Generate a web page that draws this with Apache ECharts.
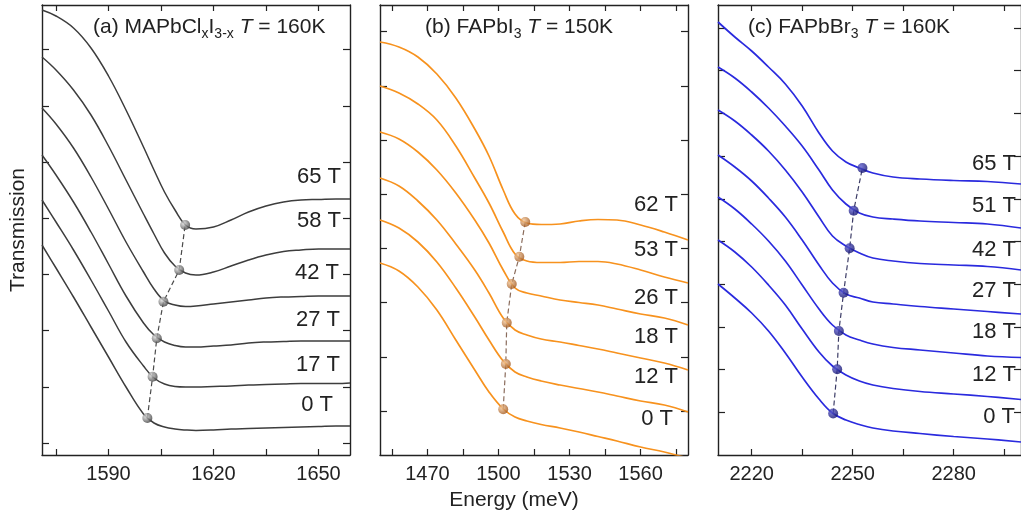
<!DOCTYPE html>
<html lang="en">
<head>
    <meta charset="UTF-8"/>
    <script src="https://cdn.jsdelivr.net/npm/echarts@6/dist/echarts.min.js"></script>
    <title>magneto_transmission</title>
    <style>html, body {margin: 0; padding: 0; background: #fff;}</style>
</head>
<body>
<div id="main" style="width: 1021px;height: 518px"></div>
<script type="text/javascript">
    // ---- panel (a) MAPbClxI3-x, T = 160K ----
    var energyA = [1571, 1575, 1580, 1585, 1590, 1595, 1600, 1603, 1606, 1609, 1612, 1615, 1620, 1625, 1630, 1635, 1640, 1645, 1650, 1655, 1659];
    var fieldsA = ['0 T', '17 T', '27 T', '42 T', '58 T', '65 T'];
    var curvesA = [
        [210, 187, 158, 128, 98, 68, 41, 32, 28, 26, 25, 24.5, 25, 26, 26.5, 27, 27.5, 28, 28.5, 29, 29],
        [255, 233, 205, 175, 144, 113, 89, 77, 71, 68.5, 68, 68, 68.5, 69, 70, 70.5, 71, 71.5, 71.5, 71.5, 72],
        [300, 280, 253, 223, 191, 159, 132, 120, 113, 109.5, 108, 108, 109, 110, 112, 113, 113.5, 114, 114, 114, 114],
        [347, 331, 307, 278, 246, 213, 183, 166, 154, 150, 148.5, 149, 151, 153, 155, 157, 158, 158.5, 159, 159, 159],
        [398, 385, 365, 340, 309, 275, 241, 221, 202, 189, 182, 180, 183, 189, 195, 200, 203.5, 205, 206, 206, 206],
        [445, 439, 427, 407, 379, 345, 308, 285, 263, 245, 230, 226, 228, 235, 243, 249, 253, 255, 255.5, 256, 256]
    ];
    var peakEA = [1601.1, 1602.6, 1603.8, 1605.7, 1610.2, 1611.9];
    var peakTA = [37, 78.3, 116.7, 153.3, 185, 230];
    var ticksA = [1575, 1590, 1605, 1620, 1635, 1650];
    var tickLabelsA = [1590, 1620, 1650];

    // ---- panel (b) FAPbI3, T = 150K ----
    var energyB = [1450, 1458, 1466, 1474, 1482, 1490, 1496, 1502, 1507, 1512, 1518, 1526, 1534, 1542, 1550, 1560, 1570, 1580];
    var fieldsB = ['0 T', '12 T', '18 T', '26 T', '53 T', '62 T'];
    var curvesB = [
        [192, 184, 168, 145, 115, 85, 63, 46, 38, 34, 30.5, 27, 23, 18.5, 14, 8, 3, -3],
        [235, 227, 213, 193, 167, 138, 115, 94, 83, 78, 74, 70, 66.5, 63, 59, 54, 50, 43],
        [277, 269, 254, 235, 211, 185, 162, 137, 125, 120, 116, 113, 109.5, 106, 102, 97, 92, 85],
        [323, 316, 303, 285, 262, 235, 212, 185, 167, 162, 159, 155, 152.5, 150, 146, 141, 137, 130],
        [369, 362, 351, 335, 309, 277, 252, 223, 201, 194, 192.5, 192.5, 193.5, 193.5, 191, 185, 178, 172],
        [413, 408, 398, 381, 357, 326, 299, 265, 241, 232, 230.5, 231, 234, 235.5, 235, 230, 223, 215]
    ];
    var peakEB = [1502.0, 1503.1, 1503.5, 1505.6, 1508.8, 1511.3];
    var peakTB = [45.7, 91, 132.3, 171, 198.3, 233];
    var ticksB = [1455, 1470, 1485, 1500, 1515, 1530, 1545, 1560, 1575];
    var tickLabelsB = [1470, 1500, 1530, 1560];

    // ---- panel (c) FAPbBr3, T = 160K ----
    var energyC = [2210, 2215, 2220, 2225, 2230, 2235, 2240, 2244, 2248, 2252, 2256, 2262, 2270, 2280, 2290, 2300];
    var fieldsC = ['0 T', '12 T', '18 T', '27 T', '42 T', '51 T', '65 T'];
    var curvesC = [
        [171, 157, 142, 124, 102, 78, 56, 42, 35, 30.5, 27, 24, 21.5, 18.5, 16, 13],
        [215, 203, 188, 170, 150, 126, 103, 89, 80, 74, 70, 66.5, 63.5, 61, 58.5, 55.5],
        [258, 246, 231, 214, 194, 170, 146, 130, 120, 115, 111, 107.5, 105, 102, 99, 97.5],
        [300, 288, 274, 257, 238, 215, 190, 172, 161, 157, 153, 151, 148.5, 146, 143.5, 141],
        [345, 334, 320, 304, 285, 263, 238, 219, 209, 202, 197, 194, 191.5, 190, 188.5, 185],
        [388, 377, 363, 347, 329, 309, 285, 265, 251, 242, 238, 236, 234, 232.5, 231, 227],
        [433, 418, 404, 388, 371, 349, 322, 304, 293, 287, 282, 278, 276, 274.5, 273.5, 271]
    ];
    var peakEC = [2244.2, 2245.4, 2245.9, 2247.3, 2249.1, 2250.3, 2252.9];
    var peakTC = [41.5, 85.7, 124, 162.3, 206.7, 244.3, 287];
    var ticksC = [2220, 2235, 2250, 2265, 2280, 2295];
    var tickLabelsC = [2220, 2250, 2280];

    var FONT = '"Liberation Sans", Arial, sans-serif';
    var INK = '#222';

    // layout / style of each panel
    var panels = [
        {
            left: 42, min: 1571, max: 1659, energy: energyA, curves: curvesA, fields: fieldsA,
            peakE: peakEA, peakT: peakTA, ticks: ticksA, tickLabels: tickLabelsA,
            yTicks: [12, 68.2, 124.4, 180.6, 236.8, 293, 349.2, 405.4],
            color: '#3d3d3d', width: 1.5, dash: '#4a4a4a', ball: ['#e0e0e0', '#3c3c3c'],
            title: [['(a) MAPbCl'], ['x', 'sub'], ['I'], ['3-x', 'sub'], [' '], ['T', 'it'], [' = 160K']], titleX: 93,
            labelX: [333, 340, 340, 339, 341, 341], labelY: [405, 365, 320, 273, 221, 177]
        },
        {
            left: 380, min: 1450, max: 1580, energy: energyB, curves: curvesB, fields: fieldsB,
            peakE: peakEB, peakT: peakTB, ticks: ticksB, tickLabels: tickLabelsB,
            yTicks: [44, 98.2, 152.4, 206.6, 260.8, 315, 369.2, 423.4],
            color: '#f7921e', width: 1.7, dash: '#8a6c5c', ball: ['#f4c89a', '#a0561c'],
            title: [['(b) FAPbI'], ['3', 'sub'], [' '], ['T', 'it'], [' = 150K']], titleX: 425,
            labelX: [673, 678, 678, 678, 678, 678], labelY: [419, 377, 337, 298, 250, 205]
        },
        {
            left: 718, min: 2210, max: 2300, energy: energyC, curves: curvesC, fields: fieldsC,
            peakE: peakEC, peakT: peakTC, ticks: ticksC, tickLabels: tickLabelsC,
            yTicks: [42.7, 85.4, 128.1, 170.8, 213.5, 256.2, 298.9, 341.6, 384.3, 427],
            color: '#2a2ade', width: 1.7, dash: '#3c3c66', ball: ['#5a5ad0', '#14146e'],
            title: [['(c) FAPbBr'], ['3', 'sub'], [' '], ['T', 'it'], [' = 160K']], titleX: 748,
            labelX: [1015, 1016, 1016, 1016, 1016, 1016, 1016], labelY: [417, 375, 332, 291, 250, 206, 164]
        }
    ];

    var myChart = echarts.init(document.getElementById('main'));

    var grids = [], xAxes = [], yAxes = [], series = [], graphics = [];
    var measure = document.createElement('canvas').getContext('2d');

    panels.forEach(function (p, i) {
        grids.push({left: p.left, top: 5, width: 308, height: 450});

        [false, true].forEach(function (top) {
            xAxes.push({
                type: 'value', gridIndex: i, position: top ? 'top' : 'bottom',
                min: p.min, max: p.max,
                axisLine: {onZero: false, lineStyle: {color: INK, width: 1.4}},
                axisTick: {inside: true, length: 6, customValues: p.ticks, lineStyle: {color: INK, width: 1.2}},
                axisLabel: {
                    show: !top, customValues: p.tickLabels, fontSize: 20, color: INK, margin: 9, fontFamily: FONT,
                    formatter: function (v) { return String(v); }
                },
                splitLine: {show: false}
            });
            yAxes.push({
                type: 'value', gridIndex: i, position: top ? 'right' : 'left',
                min: 0, max: 450,
                axisLine: {show: true, onZero: false, lineStyle: {color: INK, width: 1.4}},
                axisTick: {show: true, inside: true, length: 7, customValues: p.yTicks, lineStyle: {color: INK, width: 1.2}},
                axisLabel: {show: false},
                splitLine: {show: false}
            });
        });

        p.curves.forEach(function (vals, k) {
            series.push({
                name: p.fields[k], type: 'line', xAxisIndex: 2 * i, yAxisIndex: 2 * i,
                data: p.energy.map(function (e, j) { return [e, vals[j]]; }),
                showSymbol: false, smooth: 0.4, clip: true, z: 2,
                lineStyle: {color: p.color, width: p.width}
            });
        });

        var peaks = p.peakE.map(function (e, j) { return [e, p.peakT[j]]; });
        series.push({
            type: 'line', xAxisIndex: 2 * i, yAxisIndex: 2 * i, data: peaks,
            showSymbol: false, z: 3,
            lineStyle: {color: p.dash, width: 1.2, type: [5, 3]}
        });
        series.push({
            type: 'scatter', xAxisIndex: 2 * i, yAxisIndex: 2 * i, data: peaks,
            symbolSize: 10, z: 4,
            itemStyle: {
                color: new echarts.graphic.RadialGradient(0.35, 0.35, 0.7, [
                    {offset: 0, color: p.ball[0]}, {offset: 1, color: p.ball[1]}
                ])
            }
        });

        // field labels
        p.fields.forEach(function (f, k) {
            graphics.push({
                type: 'text', x: p.labelX[k], y: p.labelY[k], silent: true,
                style: {text: f, fontSize: 22, fontFamily: FONT, fill: INK, align: 'right', verticalAlign: 'middle'}
            });
        });

        // panel title with subscripts and italic T
        var x = p.titleX;
        p.title.forEach(function (seg) {
            var sub = seg[1] === 'sub', it = seg[1] === 'it';
            var size = sub ? 14 : 21;
            measure.font = (it ? 'italic ' : '') + size + 'px ' + FONT;
            graphics.push({
                type: 'text', x: x, y: sub ? 34 : 27, silent: true,
                style: {
                    text: seg[0], fontSize: size, fontFamily: FONT, fontStyle: it ? 'italic' : 'normal',
                    fill: INK, align: 'left', verticalAlign: 'middle'
                }
            });
            x += measure.measureText(seg[0]).width;
        });
    });

    graphics.push({
        type: 'text', x: 18, y: 230, rotation: Math.PI / 2, silent: true,
        style: {text: 'Transmission', fontSize: 21, fontFamily: FONT, fill: INK, align: 'center', verticalAlign: 'middle'}
    });
    graphics.push({
        type: 'text', x: 514, y: 500, silent: true,
        style: {text: 'Energy (meV)', fontSize: 21, fontFamily: FONT, fill: INK, align: 'center', verticalAlign: 'middle'}
    });

    var option = {
        animation: false,
        backgroundColor: '#fff',
        grid: grids,
        xAxis: xAxes,
        yAxis: yAxes,
        series: series,
        graphic: graphics
    };

    myChart.setOption(option);
</script>
</body>
</html>
